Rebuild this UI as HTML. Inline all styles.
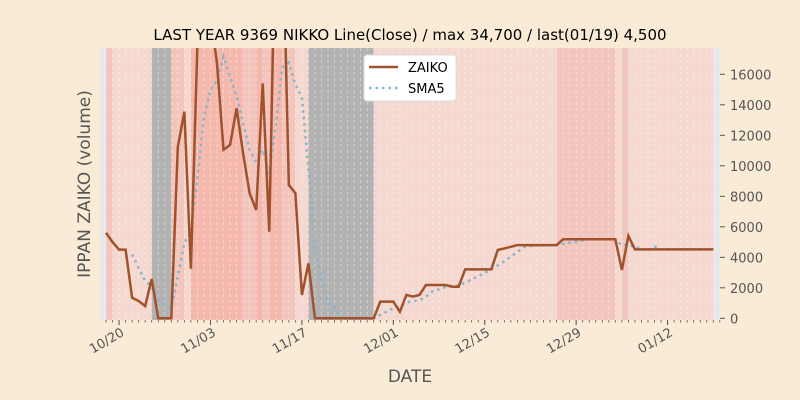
<!DOCTYPE html>
<html><head><meta charset="utf-8"><style>
html,body{margin:0;padding:0;background:#faebd7;}
svg{display:block;font-family:"DejaVu Sans","Liberation Sans",sans-serif;}
</style></head><body>
<svg id="chart" width="800" height="400" viewBox="0 0 800 400">
<rect width="800" height="400" fill="#faebd7"/>
<text x="410" y="40" text-anchor="middle" font-size="15" fill="#000">LAST YEAR 9369 NIKKO Line(Close) / max 34,700 / last(01/19) 4,500</text>
<rect x="100" y="48" width="620" height="272" fill="#e8e8e8"/>
<g id="bands"></g>
<g id="grid"></g>
<g id="series"></g>
<g id="xaxis"></g>
<g id="yaxis"></g>
<text x="410" y="382" text-anchor="middle" font-size="17" fill="#555">DATE</text>
<text transform="translate(90,184) rotate(-90)" text-anchor="middle" font-size="17" fill="#555">IPPAN ZAIKO (volume)</text>
<g>
<rect x="364" y="55" width="92" height="46" rx="3" fill="#fff" stroke="#ddd"/>
<line x1="369" y1="67" x2="398" y2="67" stroke="#a0522d" stroke-width="2.5"/>
<text x="408" y="72" font-size="13" fill="#000">ZAIKO</text>
<line x1="369" y1="88" x2="398" y2="88" stroke="#8ab4cc" stroke-width="2.5" stroke-dasharray="2.5 4"/>
<text x="408" y="93" font-size="13" fill="#000">SMA5</text>
</g>
</svg>
<script>
// Data: daily from 10/18 (day 0) to 01/19 (day 93)
const startDate = "10/18";
const zaiko = [5600,5000,4500,4500,1350,1130,800,2580,0,0,
0,11250,13550,3250,18000,20000,20000,16700,11050,11370,
13770,10800,8200,7100,15400,5680,27000,27000,8740,8200,
1530,3600,0,0,0,0,0,0,0,0,
0,0,1090,1090,1090,430,1530,1420,1530,2180,
2180,2180,2180,2070,2070,3210,3210,3210,3210,3210,
4480,4580,4690,4800,4800,4800,4800,4800,4800,4800,
5180,5180,5180,5180,5180,5180,5180,5180,5180,3170,
5400,4520,4520,4520,4520,4520,4520,4520,4520,4520,
4520,4520,4520,4520];
// band category per day: 0 light, 1 medium, 2 strong, 3 grey
const bandCat = [1,0,0,0,0,0,0,3,3,3,
1,1,0,2,2,2,2,2,2,2,
2,1,1,2,1,2,2,1,1,0,
0,3,3,3,3,3,3,3,3,3,
3,0,0,0,0,0,0,0,0,0,
0,0,0,0,0,0,0,0,0,0,
0,0,0,0,0,0,0,0,0,1,
1,1,1,1,1,1,1,1,0,1,
0,0,0,0,0,0,0,0,0,0,
0,0,0];
const xTickDays = [2,16,30,44,58,72,86];
const xTickLabels = ["10/20","11/03","11/17","12/01","12/15","12/29","01/12"];
const yTicks = [0,2000,4000,6000,8000,10000,12000,14000,16000];

const NS="http://www.w3.org/2000/svg";
const X0=106, DX=6.53, Y0=318.3, PX=0.01525, TOP=48, BOT=320, LEFT=100, RIGHT=720;
const x = d => X0 + d*DX;
const y = v => Y0 - v*PX;
function mk(tag, attrs, parent){const e=document.createElementNS(NS,tag);for(const k in attrs)e.setAttribute(k,attrs[k]);parent.appendChild(e);return e;}
const colors=["#f5d8d0","#f2c5bd","#f5b8ad","#b2b2b2"];
const bands=document.getElementById('bands');
bandCat.forEach((c,i)=>{
  const r=mk('rect',{x:x(i),y:TOP,width:DX+0.3,height:BOT-TOP,fill:colors[c]},bands);
  
  
});
const grid=document.getElementById('grid');
for(let i=0;i<zaiko.length;i++){
  const l=mk('line',{x1:x(i),x2:x(i),y1:TOP,y2:BOT,stroke:"#fff","stroke-opacity":0.5,"stroke-width":0.8,"stroke-dasharray":"3 3"},grid);
  
  
}
const series=document.getElementById('series');
const cp=mk('clipPath',{id:'clip'},series);
mk('rect',{x:LEFT,y:TOP,width:RIGHT-LEFT,height:BOT-TOP},cp);
// SMA5 (rolling mean of the data)
const sma=[];
for(let i=4;i<zaiko.length;i++){let s=0;for(let j=i-4;j<=i;j++)s+=zaiko[j];sma.push([i,s/5]);}
const smaPath=mk('polyline',{points:sma.map(p=>x(p[0])+','+y(p[1])).join(' '),fill:'none',stroke:'#8ab4cc','stroke-width':2.5,'stroke-dasharray':'2.5 4','clip-path':'url(#clip)'},series);


const zl=mk('polyline',{points:zaiko.map((v,i)=>x(i)+','+y(v)).join(' '),fill:'none',stroke:'#a0522d','stroke-width':2.5,'stroke-linejoin':'miter','clip-path':'url(#clip)'},series);


// x axis
const xa=document.getElementById('xaxis');
for(let i=-1;i<=zaiko.length;i++){
  if(x(i)<LEFT||x(i)>RIGHT)continue;
  const t=mk('line',{x1:x(i),x2:x(i),y1:BOT,y2:BOT+2.5,stroke:'#555','stroke-width':0.8},xa);
  
  
}
xTickDays.forEach((d,i)=>{
  const t=mk('line',{x1:x(d),x2:x(d),y1:BOT,y2:BOT+5,stroke:'#555','stroke-width':1},xa);
  
  
  const tx=mk('text',{x:0,y:0,'font-size':13,fill:'#555','text-anchor':'end',transform:`translate(${x(d)+6},${BOT+15}) rotate(-30)`},xa);
  tx.textContent=xTickLabels[i];
  
  
});
// y axis
const ya=document.getElementById('yaxis');
yTicks.forEach(v=>{
  const t=mk('line',{x1:RIGHT,x2:RIGHT+5,y1:y(v),y2:y(v),stroke:'#555','stroke-width':1},ya);
  
  
  const tx=mk('text',{x:RIGHT+10,y:y(v)+5,'font-size':13,fill:'#555'},ya);
  tx.textContent=String(v);
  
  
});
</script>
</body></html>
